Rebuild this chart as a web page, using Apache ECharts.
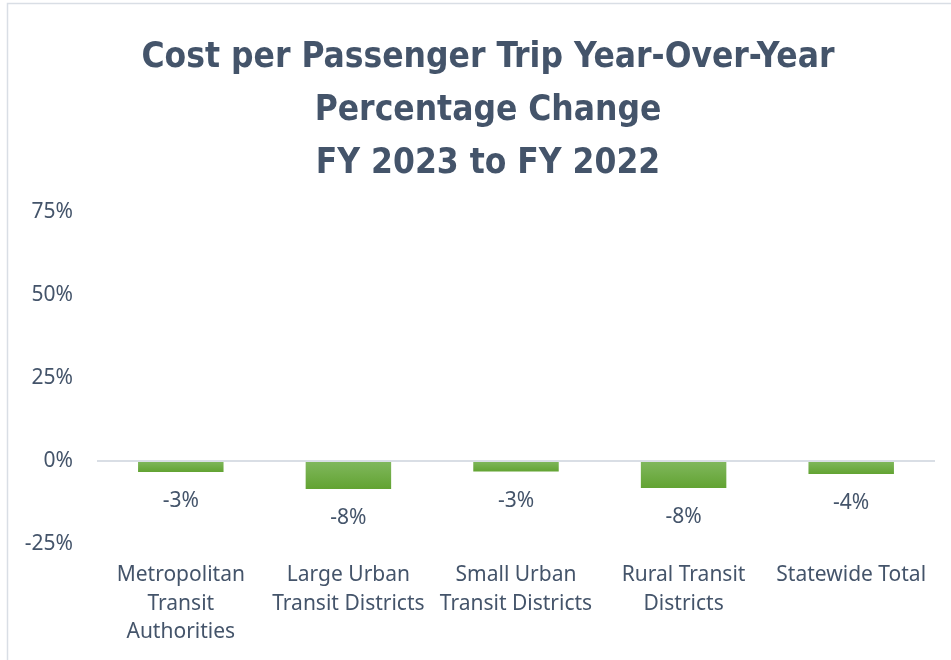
<!DOCTYPE html>
<html>
<head>
<meta charset="utf-8">
<script src="https://cdn.jsdelivr.net/npm/echarts@6/dist/echarts.min.js"></script>
<style>
html,body{margin:0;padding:0;background:#fff;}
#c{width:951px;height:660px;}
</style>
</head>
<body>
<div id="c"></div>
<script>
const titleText = 'Cost per Passenger Trip Year-Over-Year\nPercentage Change\nFY 2023 to FY 2022';
const categories = [
  'Metropolitan\nTransit\nAuthorities',
  'Large Urban\nTransit Districts',
  'Small Urban\nTransit Districts',
  'Rural Transit\nDistricts',
  'Statewide Total'
];
const values = [-3.3, -8.4, -3.2, -8.1, -3.9];
const yTicks = { min: -25, max: 75, interval: 25 };

const chart = echarts.init(document.getElementById('c'));
const textColor = '#44546A';
const font = "'Noto Sans', sans-serif";
chart.setOption({
  backgroundColor: '#fff',
  graphic: [{
    type: 'rect',
    shape: { x: 7.5, y: 3.5, width: 1000, height: 700 },
    style: { fill: 'none', stroke: '#d9dee5', lineWidth: 1.5 },
    silent: true
  }],
  title: {
    text: titleText,
    left: 483,
    textAlign: 'center',
    top: 26,
    textStyle: {
      fontFamily: "'DejaVu Sans Condensed', sans-serif",
      fontWeight: 'bold',
      fontSize: 35,
      lineHeight: 53,
      color: textColor
    }
  },
  grid: { left: 97, right: 16, top: 212, bottom: 116 },
  xAxis: {
    type: 'category',
    data: categories,
    axisLine: { show: false },
    axisTick: { show: false },
    axisLabel: {
      interval: 0,
      margin: 17,
      fontFamily: font,
      fontSize: 21,
      lineHeight: 28.5,
      color: textColor
    }
  },
  yAxis: {
    type: 'value',
    min: yTicks.min,
    max: yTicks.max,
    interval: yTicks.interval,
    axisLine: { show: false },
    axisTick: { show: false },
    splitLine: { show: false },
    axisLabel: {
      margin: 24,
      fontFamily: font,
      fontSize: 21,
      color: textColor,
      formatter: v => v + '%'
    }
  },
  series: [{
    type: 'bar',
    data: values,
    barWidth: '51%',
    itemStyle: {
      color: new echarts.graphic.LinearGradient(0, 0, 0, 1, [
        { offset: 0, color: '#81b85e' },
        { offset: 1, color: '#62a332' }
      ])
    },
    label: {
      show: true,
      position: 'bottom',
      distance: 19,
      fontFamily: font,
      fontSize: 21,
      color: textColor,
      formatter: p => Math.round(p.value) + '%'
    },
    markLine: {
      silent: true,
      symbol: 'none',
      label: { show: false },
      lineStyle: { color: '#d9dee5', width: 2, type: 'solid' },
      data: [{ yAxis: 0 }]
    }
  }]
});
</script>
</body>
</html>
